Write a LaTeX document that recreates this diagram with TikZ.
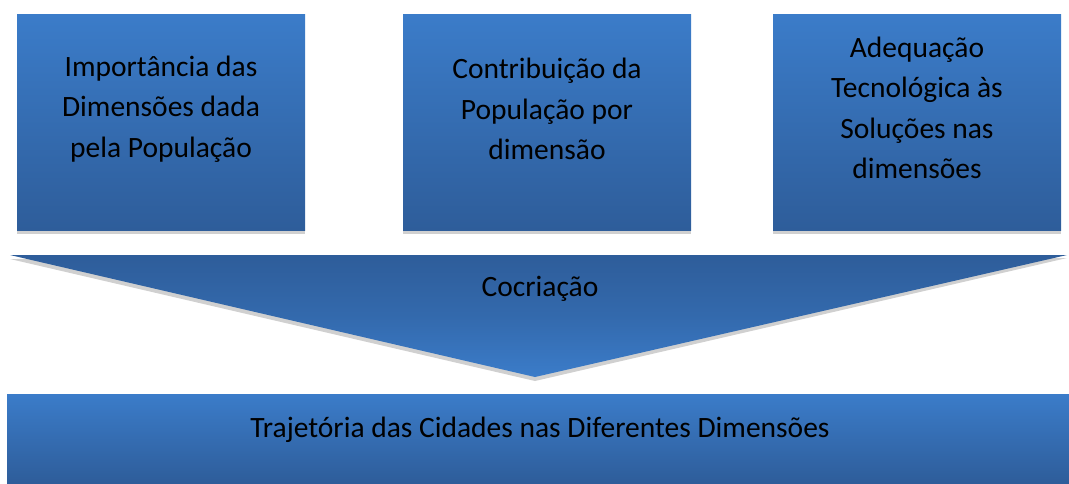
\documentclass[tikz,border=0pt]{standalone}
\usepackage{fontspec}
\setmainfont{Carlito}
\definecolor{blight}{HTML}{3B7CC9}
\definecolor{bdark}{HTML}{2E5D9A}
\definecolor{shad}{HTML}{D0D0D0}
\begin{document}
\begin{tikzpicture}[x=1pt,y=-1pt,
  box/.style={draw=none,top color=blight,bottom color=bdark,minimum width=288pt,minimum height=216pt,inner sep=0pt},
  shadowbox/.style={fill=shad,draw=none,minimum width=288pt,minimum height=216pt,inner sep=0pt},
  lbl/.style={align=center,font=\fontsize{29.5}{40.5}\selectfont,text=black}]
\useasboundingbox (0,0) rectangle (1069,483);
% shadows
\node[shadowbox] at (161,126) {};
\node[shadowbox] at (547,126) {};
\node[shadowbox] at (917,126) {};
% boxes
\node[box] (b1) at (161,122) {};
\node[box] (b2) at (547,122) {};
\node[box] (b3) at (917,122) {};
\node[lbl] (t1) at (161,109) {Importância das\\Dimensões dada\\pela População};
\node[lbl] (t2) at (547,109) {Contribuição da\\População por\\dimensão};
\node[lbl] (t3) at (917,108) {Adequação\\Tecnológica às\\Soluções nas\\dimensões};
% triangle
\fill[shad] (10,259) -- (1067,258) -- (535,381) -- cycle;
\shade[top color=bdark,bottom color=blight,middle color=bdark!60!blight] (10,255) -- (1067,255) -- (535,377) -- cycle;
\node[lbl] (c) at (540,289) {Cocriação};
% bottom bar
\node[draw=none,top color=blight,bottom color=bdark,minimum width=1062pt,minimum height=89pt,inner sep=0pt,anchor=north west] (bar) at (7,394) {};
\node[lbl] (tb) at (540,430) {Trajetória das Cidades nas Diferentes Dimensões};
\end{tikzpicture}
\end{document}
